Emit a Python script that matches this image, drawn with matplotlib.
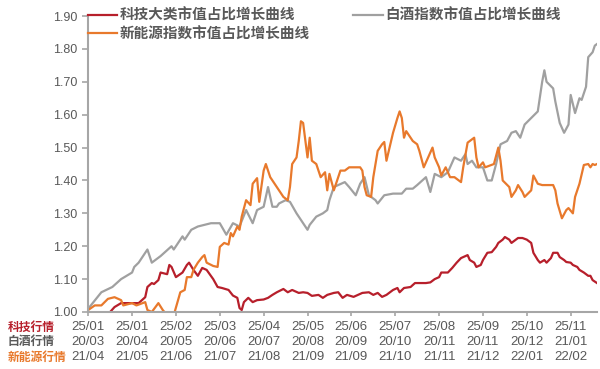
import numpy as np
import matplotlib.pyplot as plt
from matplotlib import transforms

plt.rcParams['font.family'] = ['Liberation Sans', 'Noto Sans CJK SC']

# trading-day index (20 days between ticks) and ratio values
tech_x = [10, 12, 15, 18, 21, 23, 26, 27, 29, 30, 32, 33, 36, 37, 38, 40, 43, 45, 46, 48,
          50, 52, 54, 57, 59, 61, 64, 66, 68, 69, 70, 71, 73, 75, 77, 80, 82, 84, 86, 89,
          91, 93, 96, 98, 100, 102, 105, 107, 109, 112, 114, 116, 118, 121, 123, 125, 128, 130, 132, 134,
          136, 139, 141, 142, 144, 147, 149, 151, 154, 156, 158, 160, 161, 164, 166, 168, 170, 171, 173, 174,
          176, 177, 179, 180, 182, 184, 186, 187, 189, 190, 192, 193, 194, 196, 198, 200, 202, 203, 205, 206,
          208, 209, 211, 212, 214, 215, 217, 218, 220, 221, 223, 224, 226, 228, 229, 230, 232]
tech_y = [1.000, 1.015, 1.027, 1.027, 1.027, 1.027, 1.045, 1.076, 1.088, 1.085, 1.097, 1.120, 1.115, 1.143, 1.137, 1.106, 1.120, 1.143, 1.150, 1.128,
          1.110, 1.134, 1.128, 1.100, 1.076, 1.073, 1.067, 1.050, 1.043, 1.012, 1.006, 1.030, 1.043, 1.030, 1.036, 1.038, 1.043, 1.052, 1.060, 1.070,
          1.060, 1.067, 1.058, 1.060, 1.058, 1.049, 1.052, 1.043, 1.052, 1.058, 1.060, 1.043, 1.052, 1.046, 1.052, 1.058, 1.060, 1.052, 1.058, 1.046,
          1.052, 1.067, 1.073, 1.060, 1.073, 1.076, 1.088, 1.088, 1.088, 1.090, 1.100, 1.106, 1.120, 1.120, 1.134, 1.150, 1.164, 1.167, 1.173, 1.158,
          1.150, 1.137, 1.143, 1.158, 1.180, 1.182, 1.198, 1.210, 1.220, 1.228, 1.220, 1.210, 1.215, 1.225, 1.225, 1.220, 1.210, 1.180, 1.158, 1.150,
          1.158, 1.150, 1.164, 1.180, 1.180, 1.167, 1.158, 1.152, 1.150, 1.143, 1.137, 1.128, 1.120, 1.110, 1.110, 1.097, 1.088]

liquor_x = [0, 6, 11, 13, 15, 20, 21, 23, 27, 29, 33, 38, 39, 43, 44, 47, 50, 53, 56, 60,
            63, 66, 69, 72, 75, 77, 80, 82, 84, 86, 87, 90, 92, 95, 98, 100, 101, 104, 107, 109,
            110, 112, 114, 117, 119, 122, 124, 126, 128, 131, 132, 135, 139, 143, 145, 148, 150, 154, 156, 158,
            161, 164, 167, 170, 172, 173, 175, 177, 180, 182, 184, 186, 188, 191, 193, 195, 197, 199, 202, 205,
            207, 208, 209, 212, 213, 215, 217, 219, 220, 222, 224, 225, 227, 228, 230, 231, 232]
liquor_y = [1.010, 1.060, 1.076, 1.088, 1.100, 1.120, 1.137, 1.150, 1.190, 1.150, 1.170, 1.200, 1.190, 1.230, 1.220, 1.250, 1.260, 1.265, 1.270, 1.270,
            1.235, 1.270, 1.260, 1.310, 1.270, 1.310, 1.320, 1.380, 1.320, 1.320, 1.330, 1.340, 1.335, 1.300, 1.270, 1.250, 1.265, 1.290, 1.300, 1.310,
            1.340, 1.380, 1.386, 1.395, 1.380, 1.355, 1.390, 1.410, 1.355, 1.340, 1.330, 1.355, 1.360, 1.360, 1.375, 1.375, 1.386, 1.410, 1.365, 1.420,
            1.410, 1.425, 1.470, 1.460, 1.480, 1.450, 1.460, 1.440, 1.440, 1.400, 1.400, 1.450, 1.510, 1.520, 1.545, 1.550, 1.530, 1.570, 1.590, 1.610,
            1.700, 1.735, 1.700, 1.680, 1.640, 1.575, 1.545, 1.570, 1.660, 1.605, 1.650, 1.645, 1.685, 1.775, 1.790, 1.810, 1.815]

energy_x = [0, 3, 6, 9, 12, 15, 16, 20, 22, 26, 27, 29, 32, 34, 36, 39, 42, 44, 45, 47,
            48, 50, 52, 53, 54, 57, 59, 60, 62, 64, 65, 66, 68, 69, 70, 72, 74, 75, 77, 78,
            80, 81, 83, 85, 87, 89, 91, 92, 93, 95, 96, 97, 98, 100, 101, 102, 104, 106, 108, 109,
            110, 112, 114, 115, 117, 119, 122, 124, 125, 126, 127, 129, 130, 131, 132, 134, 135, 136, 138, 139,
            141, 142, 143, 144, 145, 148, 150, 151, 153, 155, 157, 158, 160, 161, 163, 165, 167, 170, 171, 173,
            174, 176, 177, 178, 180, 181, 183, 185, 187, 188, 189, 192, 193, 195, 196, 198, 199, 202, 203, 205,
            207, 209, 212, 213, 214, 216, 218, 219, 221, 222, 224, 226, 228, 229, 230, 231, 232]
energy_y = [1.006, 1.020, 1.020, 1.040, 1.045, 1.036, 1.020, 1.027, 1.020, 1.030, 1.006, 1.000, 1.027, 1.006, 0.990, 0.990, 1.060, 1.067, 1.106, 1.106,
            1.128, 1.150, 1.167, 1.173, 1.150, 1.140, 1.137, 1.198, 1.210, 1.205, 1.240, 1.230, 1.260, 1.250, 1.290, 1.340, 1.325, 1.390, 1.407, 1.335,
            1.430, 1.450, 1.410, 1.390, 1.370, 1.350, 1.340, 1.380, 1.450, 1.470, 1.520, 1.580, 1.575, 1.470, 1.530, 1.460, 1.450, 1.410, 1.425, 1.370,
            1.420, 1.370, 1.410, 1.430, 1.430, 1.440, 1.440, 1.440, 1.430, 1.380, 1.355, 1.350, 1.410, 1.450, 1.490, 1.510, 1.517, 1.460, 1.517, 1.545,
            1.590, 1.610, 1.590, 1.530, 1.550, 1.520, 1.510, 1.490, 1.440, 1.470, 1.500, 1.470, 1.440, 1.415, 1.440, 1.410, 1.410, 1.395, 1.440, 1.515,
            1.520, 1.530, 1.470, 1.440, 1.455, 1.440, 1.445, 1.450, 1.500, 1.460, 1.400, 1.380, 1.350, 1.370, 1.386, 1.365, 1.350, 1.370, 1.415, 1.390,
            1.386, 1.386, 1.386, 1.370, 1.330, 1.285, 1.310, 1.316, 1.300, 1.350, 1.390, 1.447, 1.450, 1.440, 1.450, 1.447, 1.450]

tick_days = [0, 20, 40, 60, 80, 100, 120, 140, 160, 180, 200, 220]
tech_labels = ['25/01', '25/01', '25/02', '25/03', '25/04', '25/05', '25/06', '25/07', '25/08', '25/09', '25/10', '25/11']
liquor_labels = ['20/03', '20/04', '20/05', '20/06', '20/07', '20/08', '20/09', '20/10', '20/11', '20/11', '20/12', '21/01']
energy_labels = ['21/04', '21/05', '21/06', '21/07', '21/08', '21/09', '21/09', '21/10', '21/11', '21/12', '22/01', '22/02']
row_names = ['科技行情', '白酒行情', '新能源行情']

red = '#b71f2b'
gray = '#a0a0a0'
orange = '#e8792c'
axis_gray = '#a6a6a6'
text_gray = '#595959'

fig = plt.figure(figsize=(6, 3.69), dpi=100)
ax = fig.add_axes([0.147, 0.1545, 0.848, 0.802])

l1, = ax.plot(tech_x, tech_y, color=red, lw=1.6)
l2, = ax.plot(liquor_x, liquor_y, color=gray, lw=1.6)
l3, = ax.plot(energy_x, energy_y, color=orange, lw=1.6)

ax.set_xlim(0, 232)
ax.set_ylim(1.0, 1.9)
ax.set_yticks(np.arange(1.0, 1.91, 0.1))
ax.set_yticklabels(['%.2f' % v for v in np.arange(1.0, 1.91, 0.1)])
ax.set_xticks(tick_days)
ax.set_xticklabels([])

for s in ['top', 'right']:
    ax.spines[s].set_visible(False)
for s in ['left', 'bottom']:
    ax.spines[s].set_color(axis_gray)
    ax.spines[s].set_linewidth(1.5)
ax.tick_params(axis='y', length=4, width=1.2, color=axis_gray, labelsize=9, labelcolor=text_gray, pad=4)
ax.tick_params(axis='x', length=3, width=1.2, color=axis_gray)

# three rows of dates under the x axis
trans = transforms.blended_transform_factory(ax.transData, ax.transAxes)
rows = [tech_labels, liquor_labels, energy_labels]
row_colors = [red, text_gray, orange]
row_y = [-0.051, -0.101, -0.152]
for labels, name, c, yy in zip(rows, row_names, row_colors, row_y):
    for d, lab in zip(tick_days, labels):
        ax.text(d, yy, lab, transform=trans, ha='center', va='center', fontsize=9.5, color=text_gray)
    ax.text(-0.159, yy, name, transform=ax.transAxes, ha='left', va='center', fontsize=8.5,
            fontweight='bold', color=c, family='Noto Sans CJK SC')

leg = ax.legend([l1, l3, l2], ['科技大类市值占比增长曲线', '新能源指数市值占比增长曲线', '白酒指数市值占比增长曲线'],
                ncol=2, loc='upper left', bbox_to_anchor=(0.0, 1.03), frameon=False, borderpad=0, borderaxespad=0,
                handlelength=2.0, handletextpad=0.15, columnspacing=3.0, labelspacing=0.15,
                prop=dict(family='Noto Sans CJK SC', weight='bold', size=10.5), labelcolor=text_gray)

fig.savefig('out.png', dpi=100)
